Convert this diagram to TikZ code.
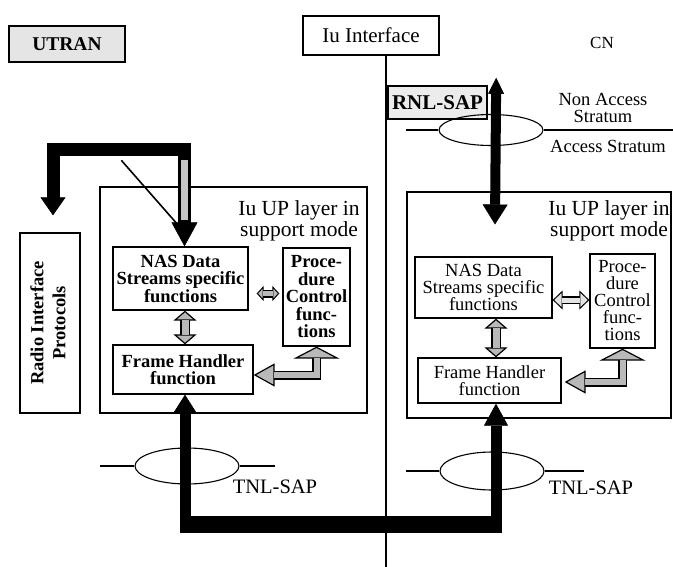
\documentclass[tikz,border=0pt]{standalone}
\usepackage{fontspec}
\setmainfont{Liberation Serif}
\usetikzlibrary{arrows.meta,calc,shapes.geometric}

\begin{document}
\begin{tikzpicture}[x=1pt,y=-1pt,
  box/.style={draw, line width=1.3pt, inner sep=0pt, align=center},
  lbl/.style={font=\fontsize{18.5}{17.5}\selectfont\bfseries},
  rbl/.style={font=\fontsize{18.5}{17}\selectfont},
  sap/.style={draw, ellipse, line width=1.1pt, inner sep=0pt, minimum width=104pt},
  thinline/.style={line width=1.1pt},
  fillA/.style={gray!55},
  fillB/.style={gray!22}
]
\useasboundingbox (0,0) rectangle (673,566);

% ---- headings -------------------------------------------------------
\node[box, line width=2.4pt, fill=gray!20, minimum width=116pt, minimum height=36pt,
      font=\fontsize{19.5}{19.5}\selectfont\bfseries] (utran) at (67,44) {UTRAN};
\node[box, minimum width=136pt, minimum height=39pt,
      font=\fontsize{21}{21}\selectfont] (iuif) at (371,35.5) {Iu Interface};
\node[font=\fontsize{17}{17}\selectfont] (cn) at (602,43) {CN};

% ---- dividing line between UTRAN and CN ------------------------------
\coordinate (divTop) at ($(iuif.south)+(15,0)$);
\coordinate (divBot) at ($(divTop)+(0,511)$);
\draw[thinline] (divTop) -- (divBot);

% ---- stratum boundary ------------------------------------------------
\node[box, line width=2.4pt, fill=gray!15, minimum width=99pt, minimum height=33pt,
      font=\fontsize{21}{21}\selectfont\bfseries] (rnl) at (437.5,102.5) {RNL-SAP};
\node[sap, minimum height=31pt] (sapTop) at (491,130) {};
\coordinate (sapTopL) at ($(sapTop.west)+(-32,0)$);
\coordinate (sapTopR) at ($(sapTop.east)+(131,0)$);
\draw[thinline] (sapTopL) -- (sapTop.west);
\draw[thinline] (sapTop.east) -- (sapTopR);
\node[align=center, font=\fontsize{18.5}{17}\selectfont] (nasStr) at (603,108) {Non Access\\Stratum};
\node[font=\fontsize{18.5}{18.5}\selectfont] (asStr) at (608,146) {Access Stratum};

% ---- Iu UP layers ----------------------------------------------------
\node[box, minimum width=267pt, minimum height=226pt] (upL) at (233.5,300) {};
\node[box, line width=1.1pt, minimum width=264pt, minimum height=226pt] (upR) at (539,305) {};
\node[align=center, font=\fontsize{21.5}{18.5}\selectfont] (upLt) at (299,221) {Iu UP layer in\\support mode};
\node[align=center, font=\fontsize{21.5}{18.5}\selectfont] (upRt) at (609,221) {Iu UP layer in\\support mode};

\node[box, minimum width=60pt, minimum height=180pt,
      font=\fontsize{18.5}{22}\selectfont\bfseries] (radio) at (50,323)
      {\rotatebox{90}{\begin{tabular}{@{}c@{}}Radio Interface\\Protocols\end{tabular}}};

% UTRAN side
\node[box, lbl, minimum width=135pt, minimum height=63pt] (nasL) at (180.5,278.5) {NAS Data\\Streams specific\\functions};
\node[box, lbl, minimum width=67pt, minimum height=98pt] (procL) at (316.5,297) {Proce-\\dure\\Control\\func-\\tions};
\node[box, lbl, minimum width=140pt, minimum height=49pt] (fhL) at (183,369.5) {Frame Handler\\function};

% CN side
\node[box, rbl, minimum width=137pt, minimum height=61pt] (nasR) at (483.5,287.5) {NAS Data\\Streams specific\\functions};
\node[box, rbl, minimum width=65pt, minimum height=94pt] (procR) at (622.5,301) {Proce-\\dure\\Control\\func-\\tions};
\node[box, rbl, minimum width=143pt, minimum height=45pt] (fhR) at (489.5,380.5) {Frame Handler\\function};

% ---- transport layer SAPs --------------------------------------------
\node[sap, minimum height=36pt] (tnlL) at (187,466) {};
\node[sap, minimum height=38pt] (tnlR) at (492,471) {};
\coordinate (tnlLa) at ($(tnlL.west)+(-34,0)$);
\coordinate (tnlLb) at ($(tnlL.east)+(35,0)$);
\coordinate (tnlRa) at ($(tnlR.west)+(-33,0)$);
\coordinate (tnlRb) at ($(tnlR.east)+(39,0)$);
\draw[thinline] (tnlLa) -- (tnlL.west);
\draw[thinline] (tnlL.east) -- (tnlLb);
\draw[thinline] (tnlRa) -- (tnlR.west);
\draw[thinline] (tnlR.east) -- (tnlRb);
\node[font=\fontsize{20.5}{20.5}\selectfont] (tnlLt) at (275,487) {TNL-SAP};
\node[font=\fontsize{20.5}{20.5}\selectfont] (tnlRt) at (591,488) {TNL-SAP};

% ---- heavy black data paths ------------------------------------------
% radio protocols <-> NAS data streams
\coordinate (radioIn) at ($(radio.north)+(3,-17)$);
\coordinate (nasLIn) at ($(nasL.north)+(4,0)$);
\coordinate (topBar) at ($(nasLIn)+(0,-97)$);
\draw[line width=13pt,
      {Triangle[length=18pt,width=25pt,line width=0.6pt]}-{Triangle[length=24pt,width=26pt,line width=0.6pt]}]
      (radioIn) |- (topBar) -- (nasLIn);
\draw[line width=7pt, gray!45] ($(nasLIn)+(0,-86)$) -- ($(nasLIn)+(0,-26)$);
\coordinate (diagA) at ($(upL.north west)+(22,-26)$);
\coordinate (diagB) at ($(nasLIn)+(0,-14)$);
\draw[line width=1.6pt] (diagA) -- (diagB);

% RNL-SAP <-> CN Iu UP layer
\coordinate (rnlUp) at ($(rnl.north east)+(8,-7)$);
\coordinate (rnlDown) at ($(upR.north)+(-44,33)$);
\draw[line width=10pt,
      {Triangle[length=16pt,width=16pt,line width=0.6pt]}-{Triangle[length=20pt,width=25pt,line width=0.6pt]}]
      (rnlUp) -- (rnlDown);

% frame handler <-> frame handler over the transport layer
\coordinate (uL) at ($(fhL.south)+(2,0)$);
\coordinate (uR) at ($(fhR.south)+(6.5,0)$);
\coordinate (uBase) at ($(uL)+(0,130)$);
\draw[line width=11pt,
      {Triangle[length=19pt,width=24pt,line width=0.6pt]}-{Triangle[length=22pt,width=24pt,line width=0.6pt]}]
      (uL) |- (uBase -| uR) -- (uR);
\draw[line width=17pt] ($(uL |- uBase)+(-5.5,0)$) -- ($(uBase -| uR)+(5.5,0)$);

% ---- hollow grey arrows inside the Iu UP layers -----------------------
% NAS data streams <-> frame handler
\coordinate (nfL) at ($(nasL.south)+(4.5,0)$);
\draw[line width=10pt,
      {Triangle[length=10pt,width=23pt,line width=1.2pt,fill=gray!55]}-{Triangle[length=10pt,width=23pt,line width=1.2pt,fill=gray!55]}]
      (nfL) -- (nfL |- fhL.north);
\draw[line width=7pt, fillA, shorten <=9pt, shorten >=9pt] (nfL) -- (nfL |- fhL.north);

\coordinate (nfR) at ($(nasR.south)+(12.5,0)$);
\draw[line width=10pt,
      {Triangle[length=10pt,width=23pt,line width=1.2pt,fill=gray!55]}-{Triangle[length=10pt,width=23pt,line width=1.2pt,fill=gray!55]}]
      (nfR) -- (nfR |- fhR.north);
\draw[line width=7pt, fillA, shorten <=9pt, shorten >=9pt] (nfR) -- (nfR |- fhR.north);

% NAS data streams <-> procedure control
\coordinate (npL) at ($(nasL.east)+(8,15)$);
\draw[line width=8pt, shorten >=3pt,
      {Triangle[length=7pt,width=15pt,line width=1pt,fill=gray!55]}-{Triangle[length=7pt,width=15pt,line width=1pt,fill=gray!55]}]
      (npL) -- (npL -| procL.west);
\draw[line width=5pt, fillA, shorten <=6pt, shorten >=9pt] (npL) -- (npL -| procL.west);

\coordinate (npR) at ($(nasR.east)+(0,12.5)$);
\draw[line width=8pt,
      {Triangle[length=10pt,width=19pt,line width=1pt,fill=gray!22]}-{Triangle[length=10pt,width=19pt,line width=1pt,fill=gray!22]}]
      (npR) -- (npR -| procR.west);
\draw[line width=5pt, fillB, shorten <=9pt, shorten >=9pt] (npR) -- (npR -| procR.west);

% procedure control <-> frame handler
\coordinate (pfL) at ($(fhL.east)+(0,5.5)$);
\draw[line width=9pt,
      {Triangle[length=12pt,width=46pt,line width=1.2pt,fill=gray!55]}-{Triangle[length=21pt,width=23pt,line width=1.2pt,fill=gray!55]}]
      (procL.south) |- (pfL);
\draw[line width=6pt, fillA, shorten <=11pt, shorten >=20pt] (procL.south) |- (pfL);

\coordinate (pfR) at ($(fhR.east)+(3,1.5)$);
\draw[line width=9pt,
      {Triangle[length=12pt,width=46pt,line width=1.2pt,fill=gray!55]}-{Triangle[length=21pt,width=23pt,line width=1.2pt,fill=gray!55]}]
      (procR.south) |- (pfR);
\draw[line width=6pt, fillA, shorten <=11pt, shorten >=20pt] (procR.south) |- (pfR);

\end{tikzpicture}
\end{document}
